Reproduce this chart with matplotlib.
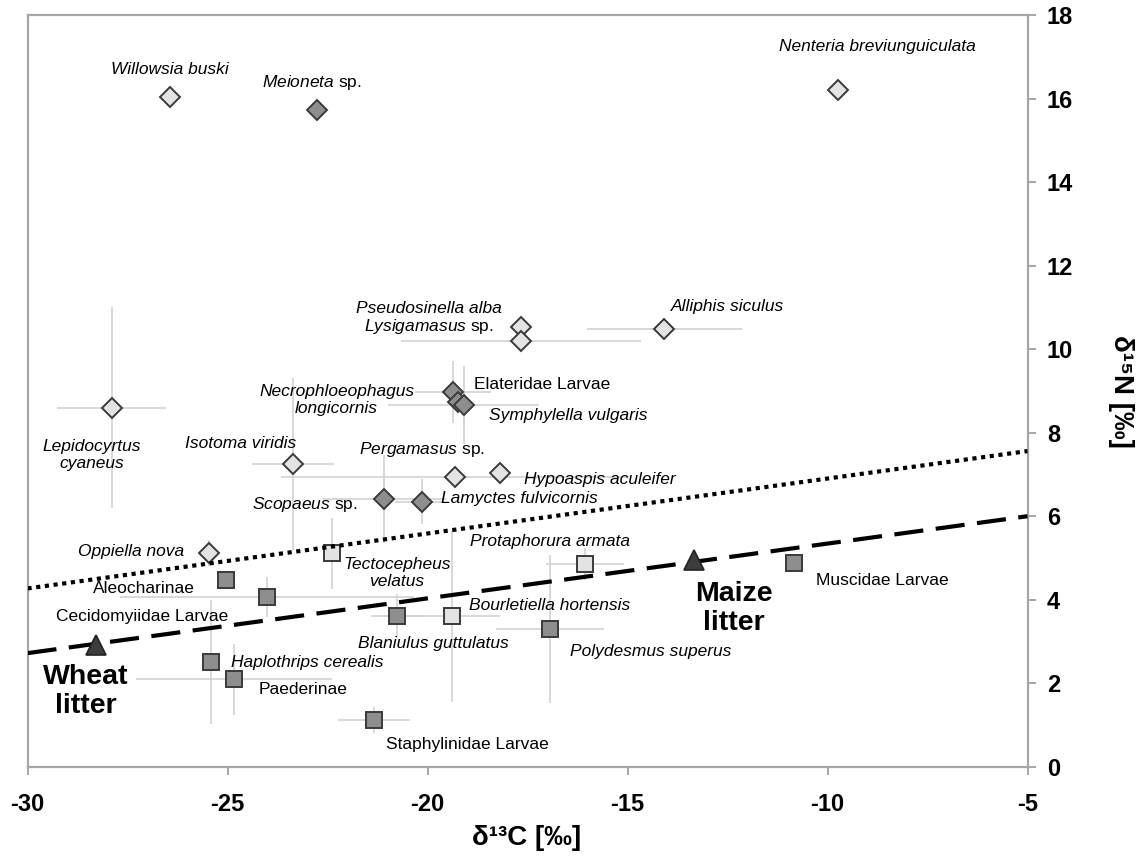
import matplotlib
matplotlib.use("Agg")
import matplotlib.pyplot as plt

plt.rcParams['font.family'] = ['Liberation Sans', 'DejaVu Sans']
plt.rcParams['mathtext.fontset'] = 'custom'
plt.rcParams['mathtext.it'] = 'Liberation Sans:italic'
plt.rcParams['mathtext.rm'] = 'Liberation Sans'
plt.rcParams['mathtext.bf'] = 'Liberation Sans:bold'

# --- stable isotope signatures (mean and SD, per mille) ---
# Collembola and mites
names_ld = ["Willowsia buski", "Nenteria breviunguiculata", "Lepidocyrtus cyaneus",
            "Isotoma viridis", "Oppiella nova", "Pseudosinella alba", "Lysigamasus sp.",
            "Alliphis siculus", "Pergamasus sp.", "Hypoaspis aculeifer"]
c13_ld = [-26.44, -9.74, -27.90, -23.36, -25.46, -17.67, -17.67, -14.08, -19.32, -18.20]
n15_ld = [16.04, 16.20, 8.60, 7.25, 5.11, 10.54, 10.20, 10.48, 6.95, 7.03]
c13sd_ld = [0, 0, 1.37, 1.02, 0, 0, 3.00, 1.94, 4.35, 0]
n15sd_ld = [0, 0, 2.41, 2.07, 0.31, 0, 0, 0, 0, 0]

# predatory macrofauna
names_dd = ["Meioneta sp.", "Necrophloeophagus longicornis", "Elateridae Larvae",
            "Symphylella vulgaris", "Scopaeus sp.", "Lamyctes fulvicornis"]
c13_dd = [-22.77, -19.37, -19.23, -19.10, -21.08, -20.14]
n15_dd = [15.73, 8.98, 8.74, 8.66, 6.41, 6.35]
c13sd_dd = [0, 0.95, 0, 1.88, 1.53, 0.68]
n15sd_dd = [0, 0.74, 0, 0.93, 1.05, 0.53]

# microarthropod decomposers
names_ls = ["Tectocepheus velatus", "Protaphorura armata", "Bourletiella hortensis"]
c13_ls = [-22.40, -16.06, -19.38]
n15_ls = [5.11, 4.86, 3.62]
c13sd_ls = [0, 0.98, 1.19]
n15sd_ls = [0.85, 0.38, 2.06]

# macrofauna decomposers / herbivores
names_ds = ["Aleocharinae", "Cecidomyiidae Larvae", "Blaniulus guttulatus",
            "Polydesmus superus", "Muscidae Larvae", "Haplothrips cerealis",
            "Paederinae", "Staphylinidae Larvae"]
c13_ds = [-25.05, -24.02, -20.76, -16.94, -10.83, -25.41, -24.84, -21.33]
n15_ds = [4.46, 4.07, 3.61, 3.29, 4.89, 2.51, 2.09, 1.12]
c13sd_ds = [0, 3.68, 0.64, 1.35, 0, 0, 2.44, 0.90]
n15sd_ds = [0, 0.48, 0.52, 1.77, 0, 1.49, 0.86, 0.31]

# litter
names_lit = ["Wheat\nlitter", "Maize\nlitter"]
c13_lit = [-28.30, -13.34]
n15_lit = [2.91, 4.95]

# reference lines
line_c13 = [-30, -5]
litter_line_n15 = [2.72, 6.00]
trophic_line_n15 = [4.27, 7.56]

x_ticks = [-30, -25, -20, -15, -10, -5]
y_ticks = [0, 2, 4, 6, 8, 10, 12, 14, 16, 18]

# label anchor positions (label centres, data units)
label_pos = {
    "Willowsia buski": (-26.44, 16.69),
    "Meioneta sp.": (-22.89, 16.38),
    "Nenteria breviunguiculata": (-8.76, 17.24),
    "Lepidocyrtus cyaneus": (-28.39, 7.47),
    "Isotoma viridis": (-24.67, 7.75),
    "Necrophloeophagus longicornis": (-22.27, 8.78),
    "Pseudosinella alba": (-19.96, 10.98),
    "Lysigamasus sp.": (-19.96, 10.54),
    "Alliphis siculus": (-12.49, 11.02),
    "Elateridae Larvae": (-17.14, 9.16),
    "Symphylella vulgaris": (-16.49, 8.42),
    "Pergamasus sp.": (-20.14, 7.59),
    "Hypoaspis aculeifer": (-15.70, 6.87),
    "Scopaeus sp.": (-23.06, 6.27),
    "Lamyctes fulvicornis": (-17.71, 6.43),
    "Oppiella nova": (-27.40, 5.15),
    "Tectocepheus velatus": (-20.77, 4.63),
    "Protaphorura armata": (-16.93, 5.39),
    "Aleocharinae": (-27.10, 4.27),
    "Cecidomyiidae Larvae": (-27.13, 3.59),
    "Bourletiella hortensis": (-16.95, 3.87),
    "Blaniulus guttulatus": (-19.86, 2.96),
    "Polydesmus superus": (-14.42, 2.75),
    "Muscidae Larvae": (-8.64, 4.47),
    "Haplothrips cerealis": (-23.00, 2.50),
    "Paederinae": (-23.12, 1.84),
    "Staphylinidae Larvae": (-19.00, 0.54),
    "Wheat\nlitter": (-28.54, 1.79),
    "Maize\nlitter": (-12.34, 3.79),
}
two_line = {"Lepidocyrtus cyaneus", "Necrophloeophagus longicornis", "Tectocepheus velatus"}

LIGHT = "#e3e3e3"
DARK = "#8e8e8e"
EDGE = "#3a3a3a"
BAR = "#d2d2d2"
SPINE = "#a6a6a6"

fig = plt.figure(figsize=(11.36, 8.57), dpi=100)
ax = fig.add_axes([27.5 / 1136, 1 - 766.7 / 857, 1000 / 1136, (766.7 - 15.2) / 857])


def draw_group(xs, ys, xe, ye, marker, face, ms):
    ax.errorbar(xs, ys, xerr=xe, yerr=ye, fmt="none", ecolor=BAR,
                elinewidth=1.2, capsize=0, zorder=1)
    ax.plot(xs, ys, linestyle="none", marker=marker, markersize=ms,
            markerfacecolor=face, markeredgecolor=EDGE, markeredgewidth=1.4, zorder=2)


draw_group(c13_ld, n15_ld, c13sd_ld, n15sd_ld, "D", LIGHT, 10)
draw_group(c13_dd, n15_dd, c13sd_dd, n15sd_dd, "D", DARK, 10)
draw_group(c13_ls, n15_ls, c13sd_ls, n15sd_ls, "s", LIGHT, 12)
draw_group(c13_ds, n15_ds, c13sd_ds, n15sd_ds, "s", DARK, 12)

ax.plot(line_c13, trophic_line_n15, color="black", linewidth=3.0,
        linestyle=(0, (1, 1.1)), zorder=3, solid_capstyle="butt")
ax.plot(line_c13, litter_line_n15, color="black", linewidth=3.0,
        linestyle=(0, (7, 3)), zorder=3)
ax.plot(c13_lit, n15_lit, linestyle="none", marker="^", markersize=15,
        markerfacecolor="#3d3d3d", markeredgecolor="#222222", markeredgewidth=1.2, zorder=4)


def label_text(name):
    if name.endswith(" sp."):
        genus = name[:-4]
        return r"$\mathit{" + genus + r"}$ sp.", "normal"
    if "Larvae" in name or name.endswith("inae"):
        return name, "normal"
    if name in two_line:
        return name.replace(" ", "\n", 1), "italic"
    return name, "italic"


for name in names_ld + names_dd + names_ls + names_ds:
    txt, style = label_text(name)
    x, y = label_pos[name]
    ax.text(x, y, txt, fontsize=12.5, style=style, ha="center", va="center",
            linespacing=1.15, zorder=5)

for name in names_lit:
    x, y = label_pos[name]
    ax.text(x, y, name, fontsize=20.5, fontweight="bold", ha="center", va="center",
            linespacing=1.15, zorder=5)

ax.set_xlim(-30, -5)
ax.set_ylim(0, 18)
ax.set_xticks(x_ticks)
ax.set_yticks(y_ticks)
ax.set_xticklabels([str(v) for v in x_ticks])
ax.set_yticklabels([str(v) for v in y_ticks])
ax.yaxis.tick_right()

for side in ("left", "right", "top", "bottom"):
    ax.spines[side].set_color(SPINE)
    ax.spines[side].set_linewidth(1.6)

ax.tick_params(axis="x", direction="out", length=6, width=1.4, color=SPINE,
               pad=13, labelsize=17)
ax.tick_params(axis="y", direction="out", length=6, width=1.4, color=SPINE,
               pad=8, labelsize=17, left=False, right=True)
for lab in ax.get_xticklabels() + ax.get_yticklabels():
    lab.set_fontweight("bold")

fig.text(527 / 1136, 1 - 838 / 857, "δ¹³C [‰]", fontsize=20, fontweight="bold",
         ha="center", va="center")
fig.text(1121 / 1136, 1 - 391 / 857, "δ¹⁵N [‰]", fontsize=20, fontweight="bold",
         ha="center", va="center", rotation=270)

fig.savefig("out.png", dpi=100)
